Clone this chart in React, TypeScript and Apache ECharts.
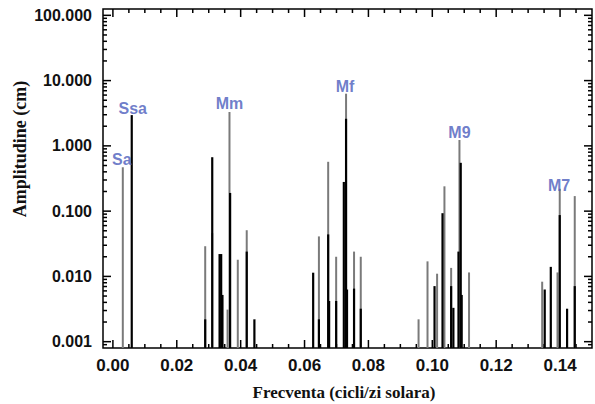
import React, { useEffect, useRef } from "react";
import * as echarts from "echarts";

// Frequency (cycles/solar day) and amplitude (cm) of the grey constituent lines
const greyFreq = [
  0.0031, 0.0289, 0.0311, 0.0359, 0.0365, 0.0391, 0.0419,
  0.0645, 0.0674, 0.0699, 0.073, 0.0755, 0.0776,
  0.0957, 0.0985, 0.1015, 0.1038, 0.1059, 0.1085, 0.1115,
  0.1344, 0.1392, 0.1399, 0.1446,
];
const greyAmp = [
  0.47, 0.029, 0.046, 0.0031, 3.3, 0.018, 0.051,
  0.041, 0.57, 0.02, 6.3, 0.024, 0.02,
  0.0022, 0.017, 0.011, 0.24, 0.0135, 1.23, 0.0115,
  0.0083, 0.0115, 0.22, 0.17,
];

// Frequency and amplitude of the black constituent lines
const blackFreq = [
  0.0059, 0.0289, 0.0311, 0.0334, 0.0339, 0.0343, 0.0367, 0.0419, 0.0443,
  0.0627, 0.0645, 0.0674, 0.0677, 0.0699, 0.0723, 0.073, 0.0733, 0.0755, 0.0776,
  0.1007, 0.1032, 0.1059, 0.1066, 0.1082, 0.1089, 0.1092,
  0.1352, 0.1371, 0.1399, 0.1422, 0.1446,
];
const blackAmp = [
  2.96, 0.0022, 0.67, 0.022, 0.022, 0.0052, 0.19, 0.024, 0.0022,
  0.0114, 0.0022, 0.044, 0.0042, 0.0042, 0.28, 2.6, 0.0063, 0.0065, 0.0032,
  0.0071, 0.093, 0.0071, 0.0033, 0.024, 0.55, 0.0052,
  0.0063, 0.014, 0.087, 0.0032, 0.0071,
];

// Constituent name annotations (position in data units)
const tideNames = ["Sa", "Ssa", "Mm", "Mf", "M9", "M7"];
const tideFreq = [0.0028, 0.0062, 0.0365, 0.0727, 0.1085, 0.1397];
const tideAmp = [0.61, 3.78, 4.5, 8.2, 1.63, 0.25];

// Axis ticks
const xMajorTicks = [0.0, 0.02, 0.04, 0.06, 0.08, 0.1, 0.12, 0.14];
const xMinorStep = 0.005;
const yMajorTicks = [0.001, 0.01, 0.1, 1, 10, 100];
const X_MIN = -0.0031;
const X_MAX = 0.15;
const AMP_MIN = 0.0008;
const AMP_MAX = 125;

export default function App() {
  const ref = useRef<HTMLDivElement>(null);
  useEffect(() => {
    if (!ref.current) return;
    const chart = echarts.init(ref.current, null, { renderer: "svg" });
    const yMin = Math.log10(AMP_MIN);
    const yMax = Math.log10(AMP_MAX);
    const MAJOR = 8;
    const MINOR = 4;

    // tick table: [value, length]
    const xTicks: number[][] = [];
    for (let i = 0; i * xMinorStep < X_MAX - 1e-9; i++) {
      const v = +(i * xMinorStep).toFixed(3);
      const isMajor = xMajorTicks.some((m) => Math.abs(m - v) < 1e-9);
      xTicks.push([v, isMajor ? MAJOR : MINOR]);
    }
    const yMajor = yMajorTicks.map((v) => Math.log10(v));
    const yTicks: number[][] = yMajor.map((v) => [v, MAJOR]);
    for (let n = -4; n <= 2; n++) {
      for (let k = 2; k <= 9; k++) {
        const v = Math.log10(k * Math.pow(10, n));
        if (v > yMin && v < yMax) yTicks.push([v, MINOR]);
      }
    }

    const lineRender = (color: string, width: number) => (params: any, api: any) => {
      const x = api.value(0);
      const y = api.value(1);
      const top = api.coord([x, y]);
      const bot = api.coord([x, yMin]);
      return {
        type: "line",
        shape: { x1: top[0], y1: top[1], x2: bot[0], y2: bot[1] },
        style: { stroke: color, lineWidth: width },
      };
    };

    const tickStyle = { stroke: "#000", lineWidth: 1.5 };
    const xTickRender = (params: any, api: any) => {
      const cs = params.coordSys;
      const p = api.coord([api.value(0), yMin]);
      const len = api.value(1);
      return {
        type: "group",
        children: [
          { type: "line", shape: { x1: p[0], y1: cs.y + cs.height, x2: p[0], y2: cs.y + cs.height - len }, style: tickStyle },
          { type: "line", shape: { x1: p[0], y1: cs.y, x2: p[0], y2: cs.y + len }, style: tickStyle },
        ],
      };
    };
    const yTickRender = (params: any, api: any) => {
      const cs = params.coordSys;
      const p = api.coord([X_MIN, api.value(0)]);
      const len = api.value(1);
      return {
        type: "group",
        children: [
          { type: "line", shape: { x1: cs.x, y1: p[1], x2: cs.x + len, y2: p[1] }, style: tickStyle },
          { type: "line", shape: { x1: cs.x + cs.width, y1: p[1], x2: cs.x + cs.width - len, y2: p[1] }, style: tickStyle },
        ],
      };
    };

    const labelFont = { fontFamily: "Liberation Sans", fontWeight: "bold" as const };

    chart.setOption({
      animation: false,
      backgroundColor: "#fff",
      grid: {
        left: 103,
        right: 3,
        top: 9,
        bottom: 56,
        show: true,
        borderColor: "#000",
        borderWidth: 1.5,
        backgroundColor: "transparent",
      },
      xAxis: {
        type: "value",
        min: X_MIN,
        max: X_MAX,
        splitLine: { show: false },
        axisLine: { show: false, onZero: false },
        axisTick: { show: false },
        axisLabel: {
          show: true,
          customValues: xMajorTicks,
          formatter: (v: number) => v.toFixed(2),
          color: "#111",
          fontSize: 17,
          margin: 9,
          ...labelFont,
        },
      },
      yAxis: {
        type: "value",
        min: yMin,
        max: yMax,
        splitLine: { show: false },
        axisLine: { show: false, onZero: false },
        axisTick: { show: false },
        axisLabel: {
          show: true,
          customValues: yMajor,
          formatter: (v: number) => Math.pow(10, v).toFixed(3),
          color: "#111",
          fontSize: 16,
          margin: 11,
          ...labelFont,
        },
      },
      series: [
        {
          type: "custom",
          name: "xTicks",
          clip: false,
          silent: true,
          renderItem: xTickRender,
          encode: { x: 0 },
          data: xTicks,
        },
        {
          type: "custom",
          name: "yTicks",
          clip: false,
          silent: true,
          renderItem: yTickRender,
          encode: { y: 0 },
          data: yTicks,
        },
        {
          type: "custom",
          name: "grey",
          clip: true,
          renderItem: lineRender("#7a7a7a", 2),
          encode: { x: 0, y: 1 },
          data: greyFreq.map((f, i) => [f, Math.log10(greyAmp[i])]),
        },
        {
          type: "custom",
          name: "black",
          clip: true,
          renderItem: lineRender("#000", 2.2),
          encode: { x: 0, y: 1 },
          data: blackFreq.map((f, i) => [f, Math.log10(blackAmp[i])]),
        },
        {
          type: "scatter",
          name: "names",
          symbolSize: 1,
          itemStyle: { color: "transparent" },
          label: {
            show: true,
            position: "inside",
            formatter: (p: any) => p.name,
            color: "#4a5cbc",
            fontSize: 16,
            ...labelFont,
          },
          data: tideNames.map((n, i) => ({ name: n, value: [tideFreq[i], Math.log10(tideAmp[i])] })),
        },
      ],
      graphic: [
        {
          type: "text",
          x: 20,
          y: 149,
          rotation: Math.PI / 2,
          style: {
            text: "Amplitudine (cm)",
            font: 'bold 18px "Liberation Serif"',
            fill: "#111",
            align: "center",
            verticalAlign: "middle",
          },
        },
        {
          type: "text",
          x: 344,
          y: 392,
          style: {
            text: "Frecventa (cicli/zi solara)",
            font: 'bold 17px "Liberation Serif"',
            fill: "#111",
            align: "center",
            verticalAlign: "middle",
          },
        },
      ],
    });
    return () => chart.dispose();
  }, []);
  return (
    <div
      ref={ref}
      style={{ position: "fixed", left: 0, top: 0, width: 595, height: 404, background: "#fff" }}
    />
  );
}
